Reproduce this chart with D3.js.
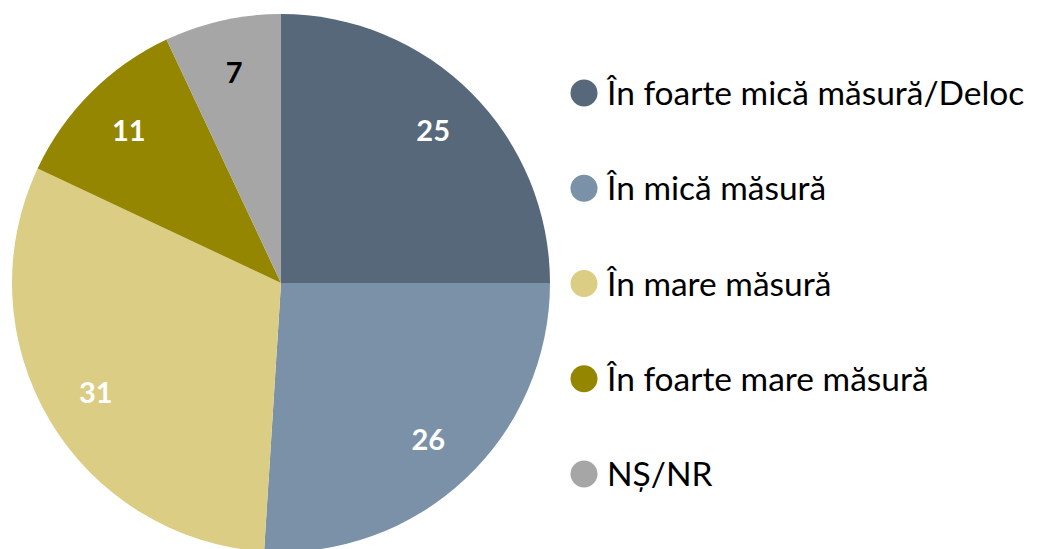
<!DOCTYPE html>
<html>
<head>
<meta charset="utf-8">
<script src="https://cdn.jsdelivr.net/npm/d3@7"></script>
<style>
  body { margin: 0; background: #fff; }
  text { font-family: Lato, "Open Sans", sans-serif; }
</style>
</head>
<body>
<div id="chart"></div>
<script>
// Date
const categories = ["În foarte mică măsură/Deloc", "În mică măsură", "În mare măsură", "În foarte mare măsură", "NȘ/NR"];
const values = [25, 26, 31, 11, 7];
const colors = ["#56687a", "#7a91a8", "#dccd85", "#948600", "#a6a6a6"];
const labelColors = ["#fff", "#fff", "#fff", "#fff", "#000"];

const width = 1047, height = 549;
const cx = 281, cy = 283, radius = 269;

const svg = d3.select("#chart").append("svg")
  .attr("width", width)
  .attr("height", height);

const pie = d3.pie().sort(null).value(d => d);
const arc = d3.arc().innerRadius(0).outerRadius(radius);
const labelArc = d3.arc().innerRadius(radius * 0.8).outerRadius(radius * 0.8);

const g = svg.append("g").attr("transform", `translate(${cx},${cy})`);

const slices = g.selectAll(".slice")
  .data(pie(values))
  .enter()
  .append("g")
  .attr("class", "slice");

slices.append("path")
  .attr("d", arc)
  .attr("fill", (d, i) => colors[i]);

slices.append("text")
  .attr("transform", d => `translate(${labelArc.centroid(d)})`)
  .attr("text-anchor", "middle")
  .attr("dy", "0.36em")
  .attr("font-size", 29)
  .attr("font-weight", "bold")
  .attr("fill", (d, i) => labelColors[i])
  .text(d => d.data);

// Legenda
const legendY = d3.scalePoint().domain(categories).range([93, 474]);

const legend = svg.selectAll(".legend")
  .data(categories)
  .enter()
  .append("g")
  .attr("class", "legend")
  .attr("transform", d => `translate(584,${legendY(d)})`);

legend.append("circle")
  .attr("r", 13.5)
  .attr("fill", (d, i) => colors[i]);

legend.append("text")
  .attr("x", 23)
  .attr("dy", "0.36em")
  .attr("font-size", 33.5)
  .attr("fill", "#000")
  .text(d => d);
</script>
</body>
</html>
